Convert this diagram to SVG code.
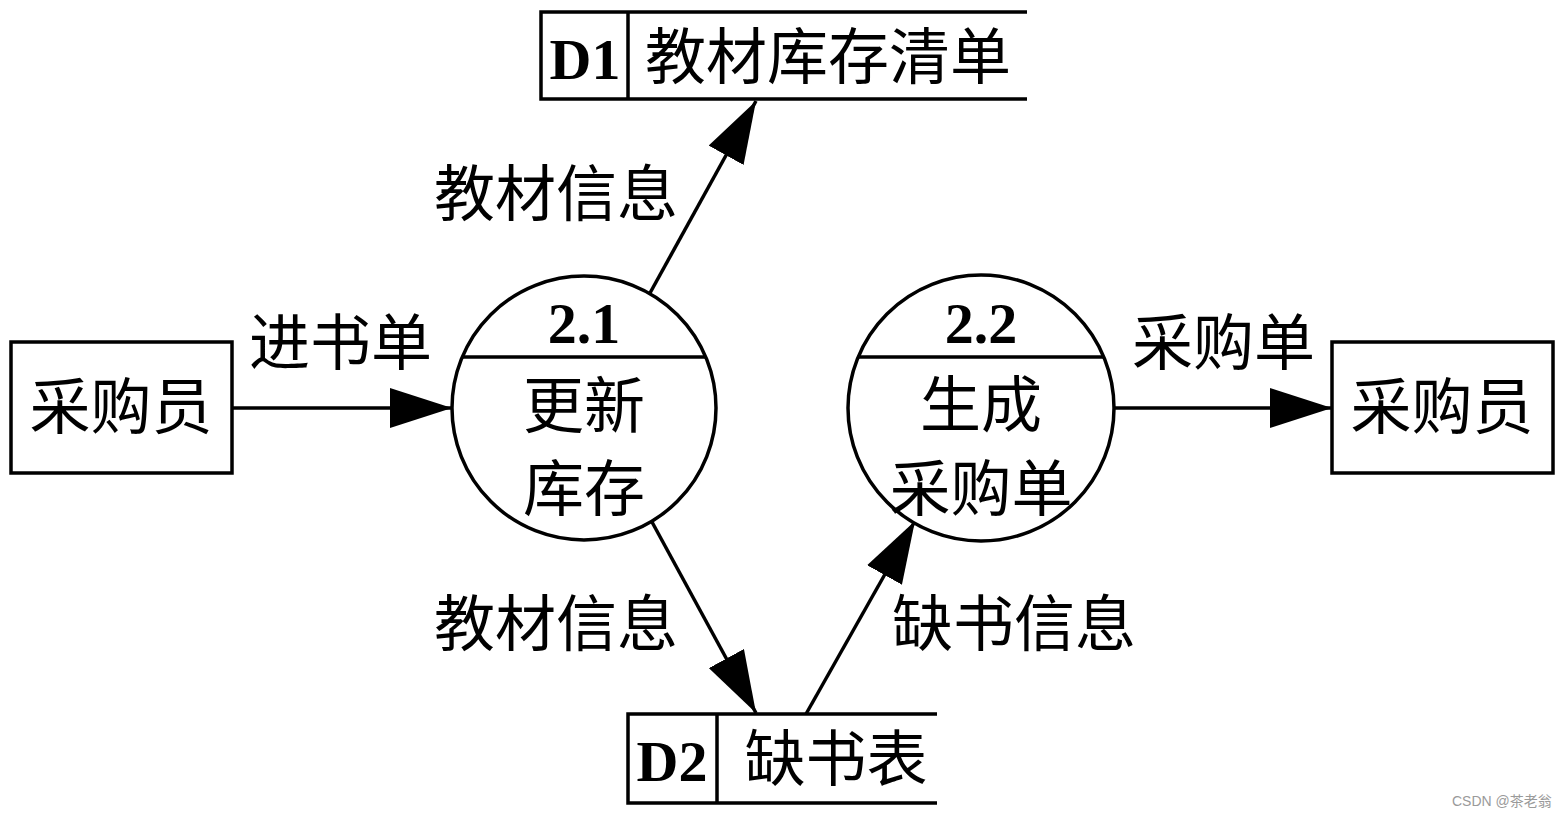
<svg xmlns="http://www.w3.org/2000/svg" width="1567" height="817" viewBox="0 0 1567 817">
<style>
.ln{stroke:#000;stroke-width:3.5;fill:none}
.box{stroke:#000;stroke-width:3.5;fill:#fff}
.cn{font-family:"Liberation Serif","Noto Sans CJK SC",serif;font-size:61px;fill:#000}
.bold{font-family:"Liberation Serif",serif;font-weight:bold;font-size:58px;fill:#000}
.wm{font-family:"Liberation Sans","Noto Sans CJK SC",sans-serif;font-size:14px;fill:#9a9a9a}
</style>
<defs>
<marker id="arr" markerUnits="userSpaceOnUse" markerWidth="62" markerHeight="40" refX="62" refY="20" orient="auto">
<path d="M0,0 L62,20 L0,40 Z" fill="#000"/>
</marker>
</defs>
<g id="connectors">
<line class="ln" x1="233" y1="408" x2="452" y2="408" marker-end="url(#arr)"/>
<line class="ln" x1="1115" y1="408" x2="1332" y2="408" marker-end="url(#arr)"/>
<line class="ln" x1="650" y1="293" x2="756" y2="101" marker-end="url(#arr)"/>
<line class="ln" x1="652" y1="522" x2="756" y2="713" marker-end="url(#arr)"/>
<line class="ln" x1="806" y1="714" x2="915" y2="521" marker-end="url(#arr)"/>
<text class="cn" x="249" y="365">进书单</text>
<text class="cn" x="1132" y="365">采购单</text>
<text class="cn" x="434" y="216">教材信息</text>
<text class="cn" x="434" y="646">教材信息</text>
<text class="cn" x="892" y="646">缺书信息</text>
</g>
<g id="ext-left">
<rect class="box" x="11" y="342" width="221" height="131"/>
<text class="cn" x="121" y="429" text-anchor="middle">采购员</text>
</g>
<g id="ext-right">
<rect class="box" x="1332" y="342" width="221" height="131"/>
<text class="cn" x="1442" y="429" text-anchor="middle">采购员</text>
</g>
<g id="p21">
<circle class="box" cx="584" cy="408" r="132"/>
<line class="ln" x1="462" y1="357" x2="706" y2="357"/>
<text class="bold" x="584" y="343" text-anchor="middle">2.1</text>
<text class="cn" x="584" y="428" text-anchor="middle">更新</text>
<text class="cn" x="584" y="511" text-anchor="middle">库存</text>
</g>
<g id="p22">
<circle class="box" cx="981" cy="408" r="133"/>
<line class="ln" x1="858" y1="357" x2="1104" y2="357"/>
<text class="bold" x="981" y="343" text-anchor="middle">2.2</text>
<text class="cn" x="981" y="427" text-anchor="middle">生成</text>
<text class="cn" x="981" y="511" text-anchor="middle">采购单</text>
</g>
<g id="d1">
<path class="ln" d="M1027,12 H541 V99 H1027 M628,12 V99"/>
<text class="bold" x="585" y="79" text-anchor="middle">D1</text>
<text class="cn" x="828" y="79" text-anchor="middle">教材库存清单</text>
</g>
<g id="d2">
<path class="ln" d="M937,714 H628 V803 H937 M717,714 V803"/>
<text class="bold" x="672" y="781" text-anchor="middle">D2</text>
<text class="cn" x="836" y="781" text-anchor="middle">缺书表</text>
</g>
<text class="wm" x="1452" y="806">CSDN @茶老翁</text>
</svg>
